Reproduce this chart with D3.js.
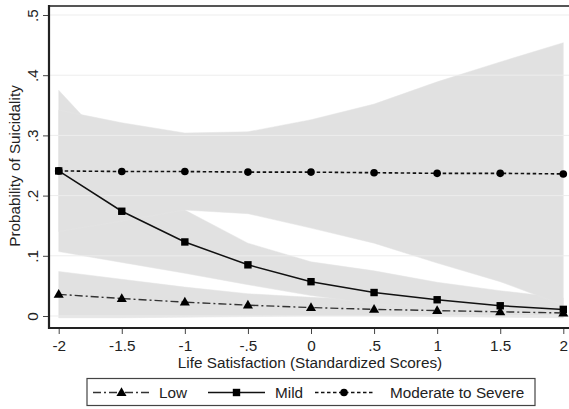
<!DOCTYPE html>
<html>
<head>
  <meta charset="utf-8">
  <title>Probability of Suicidality by Life Satisfaction</title>
  <script src="https://d3js.org/d3.v7.min.js"></script>
  <style>
    body { margin: 0; background: #fff; }
    svg { display: block; font-family: "Liberation Sans", Arial, sans-serif; }
    .tick text { font-size: 15.3px; fill: #222; }
    .axis-title { font-size: 15.3px; fill: #222; text-anchor: middle; }
    .legend-text { font-size: 15.3px; fill: #222; }
  </style>
</head>
<body>
  <script>
    // values
    var xValues = [-2, -1.5, -1, -0.5, 0, 0.5, 1, 1.5, 2];

    var lowFit = [0.036, 0.029, 0.023, 0.018, 0.014, 0.011, 0.009, 0.007, 0.005];
    var lowLo  = [-0.003, -0.003, -0.002, -0.001, 0, 0, -0.001, -0.002, -0.003];
    var lowHi  = [0.074, 0.061, 0.048, 0.037, 0.031, 0.026, 0.021, 0.018, 0.016];

    var mildFit = [0.241, 0.174, 0.123, 0.085, 0.057, 0.039, 0.027, 0.017, 0.011];
    var mildLo  = [0.107, 0.089, 0.071, 0.052, 0.034, 0.020, 0.012, 0.006, 0.003];
    var mildHi  = [0.375, 0.262, 0.176, 0.121, 0.090, 0.075, 0.056, 0.042, 0.030];

    var sevFit = [0.241, 0.240, 0.240, 0.239, 0.239, 0.238, 0.237, 0.237, 0.236];
    var sevLo  = [0.140, 0.158, 0.176, 0.170, 0.146, 0.121, 0.088, 0.057, 0.018];
    var sevHi  = [0.342, 0.321, 0.304, 0.306, 0.326, 0.352, 0.389, 0.422, 0.454];

    var yTicks = [0, 0.1, 0.2, 0.3, 0.4, 0.5];
    var yTickLabels = ["0", ".1", ".2", ".3", ".4", ".5"];
    var xTickLabels = ["-2", "-1.5", "-1", "-.5", "0", ".5", "1", "1.5", "2"];

    var seriesNames = ["Low", "Mild", "Moderate to Severe"];

    var W = 569, H = 409;
    var frame = {left: 49, top: 6, bottom: 328, right: 569};

    var x = d3.scaleLinear().domain([-2, 2]).range([58.7, 563.3]);
    var y = d3.scaleLinear().domain([0, 0.5]).range([316, 15]);

    function rows(fit, lo, hi) {
      return xValues.map(function(v, i) { return {x: v, fit: fit[i], lo: lo[i], hi: hi[i]}; });
    }

    var series = [
      {name: seriesNames[0], data: rows(lowFit, lowLo, lowHi), marker: "triangle", dash: "8,3,2,3", color: "#333", width: 1.4},
      {name: seriesNames[1], data: rows(mildFit, mildLo, mildHi), marker: "square", dash: null, color: "#111", width: 1.5},
      {name: seriesNames[2], data: rows(sevFit, sevLo, sevHi), marker: "circle", dash: "3.5,2.5", color: "#111", width: 1.6}
    ];

    var svg = d3.select("body").append("svg")
        .attr("width", W)
        .attr("height", H);

    // confidence bands
    var band = d3.area()
        .x(function(d) { return x(d.x); })
        .y0(function(d) { return y(d.lo); })
        .y1(function(d) { return y(d.hi); });

    svg.append("g").selectAll("path")
        .data(series)
      .enter().append("path")
        .attr("d", function(s) { return band(s.data); })
        .attr("fill", "#e1e1e1")
        .attr("stroke", "#e4e4e4")
        .attr("stroke-width", 0.5);

    // horizontal grid
    svg.append("g").selectAll("line")
        .data(yTicks)
      .enter().append("line")
        .attr("x1", frame.left)
        .attr("x2", frame.right)
        .attr("y1", function(d) { return y(d); })
        .attr("y2", function(d) { return y(d); })
        .attr("stroke", "#ededed")
        .attr("stroke-width", 1);

    // axes
    var yAxis = d3.axisLeft(y)
        .tickValues(yTicks)
        .tickFormat(function(d, i) { return yTickLabels[i]; })
        .tickSize(6)
        .tickSizeOuter(0);

    var yAxisGroup = svg.append("g")
        .attr("transform", "translate(" + frame.left + ",0)")
        .call(yAxis);
    yAxisGroup.select(".domain").remove();
    yAxisGroup.selectAll(".tick line").attr("stroke", "#444");
    yAxisGroup.selectAll(".tick text")
        .attr("transform", "rotate(-90)")
        .attr("x", 0)
        .attr("y", -11.5)
        .attr("dy", 0)
        .attr("text-anchor", "middle");

    var xAxis = d3.axisBottom(x)
        .tickValues(xValues)
        .tickFormat(function(d, i) { return xTickLabels[i]; })
        .tickSize(6)
        .tickSizeOuter(0);

    var xAxisGroup = svg.append("g")
        .attr("transform", "translate(0," + frame.bottom + ")")
        .call(xAxis);
    xAxisGroup.select(".domain").remove();
    xAxisGroup.selectAll(".tick line").attr("stroke", "#444");
    xAxisGroup.selectAll(".tick text")
        .attr("y", 22.5)
        .attr("dy", 0);

    // plot frame
    svg.append("line")
        .attr("x1", frame.left).attr("x2", frame.right)
        .attr("y1", frame.top).attr("y2", frame.top)
        .attr("stroke", "#555").attr("stroke-width", 2.2);
    svg.append("line")
        .attr("x1", frame.left).attr("x2", frame.right)
        .attr("y1", frame.bottom).attr("y2", frame.bottom)
        .attr("stroke", "#222").attr("stroke-width", 2.2);
    svg.append("line")
        .attr("x1", frame.left).attr("x2", frame.left)
        .attr("y1", frame.top - 1).attr("y2", frame.bottom + 1)
        .attr("stroke", "#222").attr("stroke-width", 2.2);

    // axis titles
    svg.append("text")
        .attr("class", "axis-title")
        .attr("x", 310)
        .attr("y", 368)
        .text("Life Satisfaction (Standardized Scores)");

    svg.append("text")
        .attr("class", "axis-title")
        .attr("transform", "translate(20,166) rotate(-90)")
        .text("Probability of Suicidality");

    // markers
    function drawMarker(g, type, cx, cy) {
      if (type === "triangle") {
        g.append("path")
            .attr("d", d3.symbol().type(d3.symbolTriangle).size(44)())
            .attr("transform", "translate(" + cx + "," + (cy + 0.5) + ")")
            .attr("fill", "#000");
      } else if (type === "square") {
        g.append("rect")
            .attr("x", cx - 3.7).attr("y", cy - 3.7)
            .attr("width", 7.4).attr("height", 7.4)
            .attr("fill", "#000");
      } else {
        g.append("circle")
            .attr("cx", cx).attr("cy", cy)
            .attr("r", 3.8)
            .attr("fill", "#000");
      }
    }

    var line = d3.line()
        .x(function(d) { return x(d.x); })
        .y(function(d) { return y(d.fit); });

    // draw severe first so the mild square sits on top at x = -2
    [series[2], series[1], series[0]].forEach(function(s) {
      var g = svg.append("g");
      g.append("path")
          .attr("d", line(s.data))
          .attr("fill", "none")
          .attr("stroke", s.color)
          .attr("stroke-width", s.width)
          .attr("stroke-dasharray", s.dash);
      s.data.forEach(function(d) {
        drawMarker(g, s.marker, x(d.x), y(d.fit));
      });
    });

    // legend
    var legend = svg.append("g");
    legend.append("rect")
        .attr("x", 87).attr("y", 378.5)
        .attr("width", 448).attr("height", 27)
        .attr("fill", "#fff")
        .attr("stroke", "#444")
        .attr("stroke-width", 1.2);

    var legendItems = [
      {x0: 93, x1: 150, text: 159},
      {x0: 208, x1: 265, text: 275},
      {x0: 315, x1: 373, text: 390}
    ];

    series.forEach(function(s, i) {
      var it = legendItems[i];
      var ly = 392.5;
      legend.append("line")
          .attr("x1", it.x0).attr("x2", it.x1)
          .attr("y1", ly).attr("y2", ly)
          .attr("stroke", s.color)
          .attr("stroke-width", s.width)
          .attr("stroke-dasharray", s.dash);
      drawMarker(legend, s.marker, (it.x0 + it.x1) / 2, ly);
      legend.append("text")
          .attr("class", "legend-text")
          .attr("x", it.text)
          .attr("y", 398)
          .text(s.name);
    });
  </script>
</body>
</html>
